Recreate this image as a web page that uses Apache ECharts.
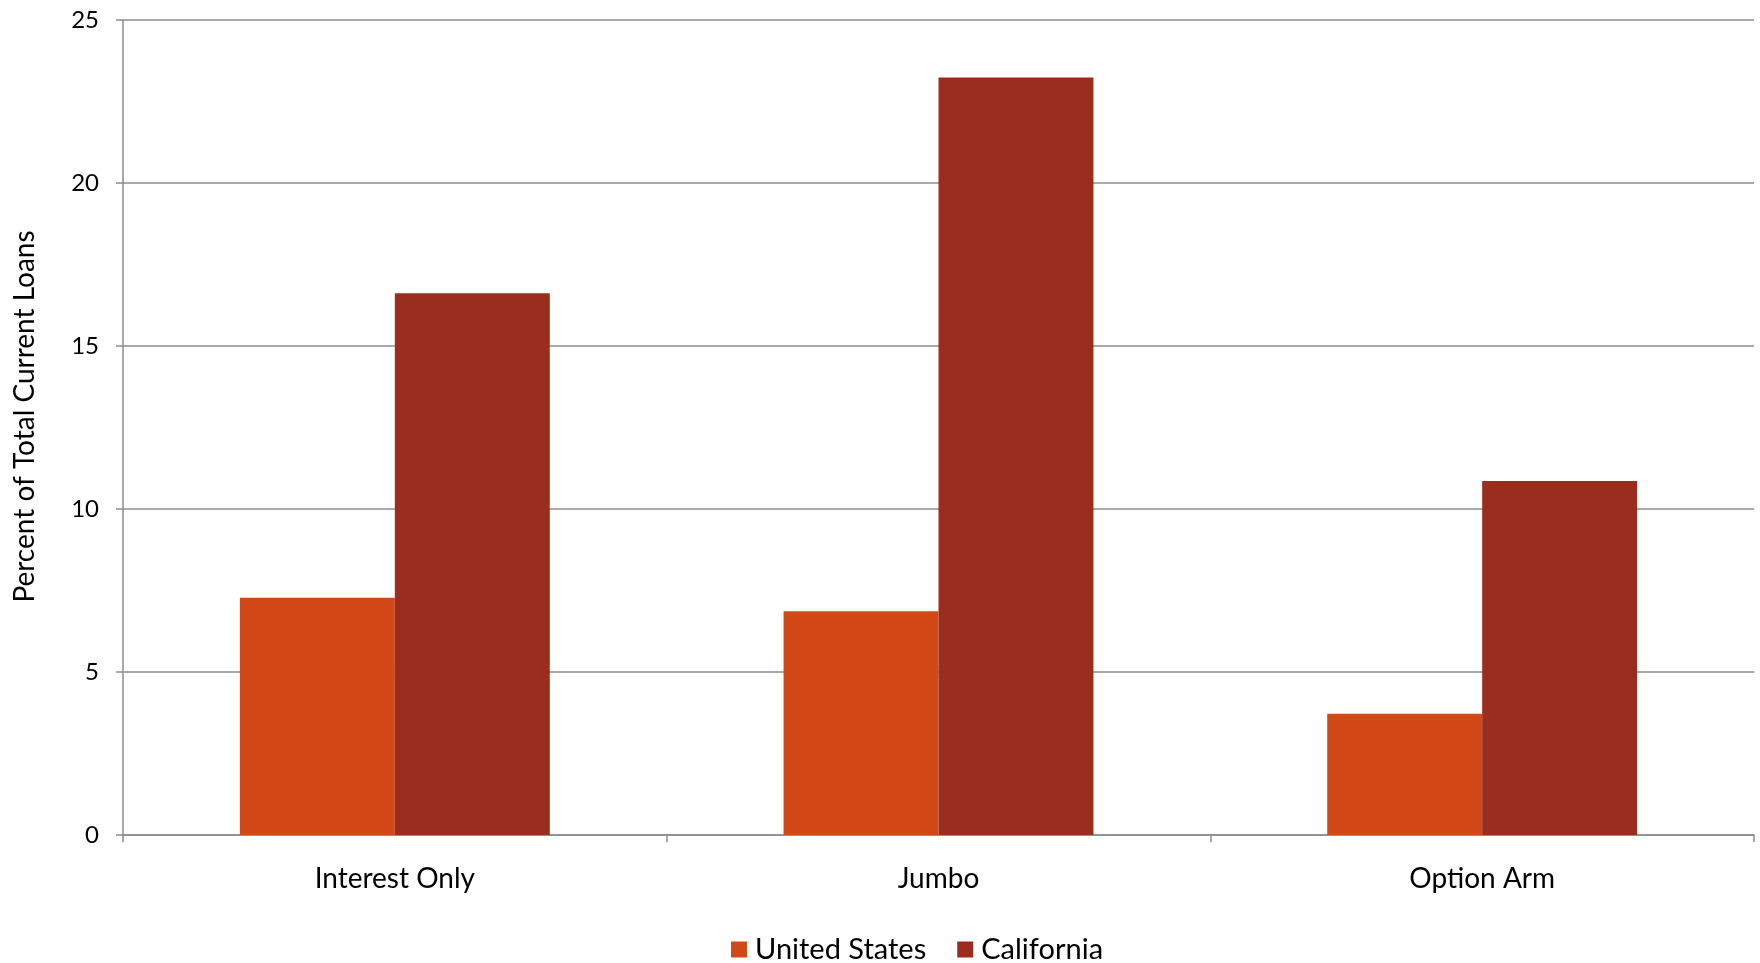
<!DOCTYPE html>
<html>
<head>
<meta charset="utf-8">
<script src="https://cdn.jsdelivr.net/npm/echarts@6/dist/echarts.min.js"></script>
<style>
html,body{margin:0;padding:0;background:#fff;}
#chart{width:1760px;height:963px;}
</style>
</head>
<body>
<div id="chart"></div>
<script>
const categories = ['Interest Only', 'Jumbo', 'Option Arm'];
const unitedStates = [7.28, 6.86, 3.72];
const california = [16.62, 23.24, 10.86];
const yTicks = { min: 0, max: 25, interval: 5 };

const FONT = 'Lato, "Open Sans", sans-serif';
const chart = echarts.init(document.getElementById('chart'));
chart.setOption({
  animation: false,
  textStyle: { fontFamily: FONT, color: '#000' },
  grid: { left: 123, right: 6, top: 20, bottom: 128, containLabel: false },
  legend: {
    left: 726, top: 930,
    itemWidth: 16, itemHeight: 16, itemGap: 31,
    icon: 'rect',
    textStyle: { fontFamily: FONT, fontSize: 29, color: '#000', padding: [0,0,0,3] },
    data: ['United States', 'California']
  },
  xAxis: {
    type: 'category',
    data: categories,
    axisLine: { lineStyle: { color: '#8c8c8c', width: 1.5 } },
    axisTick: { show: true, length: 7, lineStyle: { color: '#8c8c8c', width: 1.5 } },
    axisLabel: { fontFamily: FONT, fontSize: 28, color: '#000', margin: 30 }
  },
  yAxis: {
    type: 'value',
    min: yTicks.min, max: yTicks.max, interval: yTicks.interval,
    name: 'Percent of Total Current Loans',
    nameLocation: 'middle',
    nameGap: 84,
    nameTextStyle: { fontFamily: FONT, fontSize: 28, color: '#000', padding: [0, 0, 0, 22] },
    axisLine: { show: true, lineStyle: { color: '#8c8c8c', width: 1.5 } },
    axisTick: { show: true, length: 7, lineStyle: { color: '#8c8c8c', width: 1.5 } },
    axisLabel: { fontFamily: FONT, fontSize: 24, color: '#000', margin: 24 },
    splitLine: { show: true, lineStyle: { color: '#8c8c8c', width: 1.5 } }
  },
  series: [
    {
      name: 'United States', type: 'bar', data: unitedStates,
      itemStyle: { color: '#D34817' },
      barGap: '0%', barCategoryGap: '43%'
    },
    {
      name: 'California', type: 'bar', data: california,
      itemStyle: { color: '#9B2D1F' },
      barGap: '0%', barCategoryGap: '43%'
    }
  ]
});
</script>
</body>
</html>
